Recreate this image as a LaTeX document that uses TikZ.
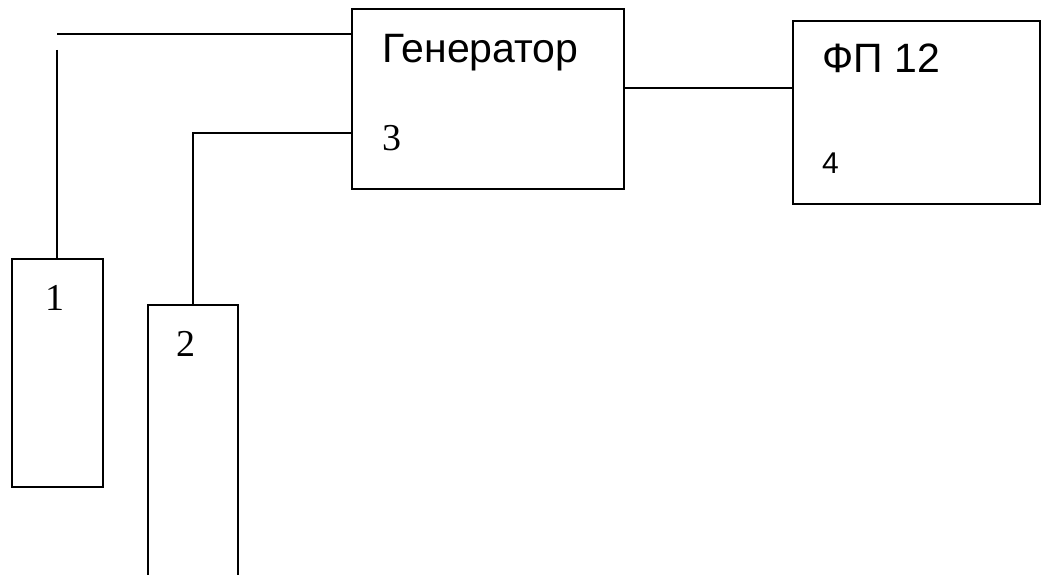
\documentclass[tikz,border=0pt]{standalone}
\usepackage{fontspec}
\setmainfont{Liberation Serif}
\newfontfamily\arialf{Liberation Sans}
\begin{document}
\begin{tikzpicture}[x=1pt,y=-1pt,
  box/.style={draw=black,line width=2pt,inner sep=0pt,fill=none},
  wire/.style={draw=black,line width=2pt},
  sanslbl/.style={anchor=base west,inner sep=0pt,font=\arialf\fontsize{41}{41}\selectfont},
  sanssmall/.style={anchor=base west,inner sep=0pt,font=\arialf\fontsize{30}{30}\selectfont},
  seriflbl/.style={anchor=base west,inner sep=0pt,font=\fontsize{38}{38}\selectfont}]
\useasboundingbox (0,0) rectangle (1041,575);
\clip (0,0) rectangle (1041,575);
% boxes
\node[box,minimum width=272pt,minimum height=180pt] (gen) at (488,99) {};
\node[box,minimum width=247pt,minimum height=183pt] (fp) at (916.5,112.5) {};
\node[box,minimum width=91pt,minimum height=228pt] (b1) at (57,373) {};
\node[box,minimum width=90pt,minimum height=320pt] (b2) at (193,465) {};
% labels
\node[sanslbl] (tgen) at (382,63) {Генератор};
\node[seriflbl] (t3) at (382,150) {3};
\node[sanslbl] (tfp) at (822,73) {ФП 12};
\node[sanssmall] (t4) at (822,173) {4};
\node[seriflbl] (t1) at (45,310) {1};
\node[seriflbl] (t2) at (176,356) {2};
% connectors
\coordinate (c1top) at (57,34);
\coordinate (c1gap) at (57,50);
\coordinate (c2) at (193,133);
\draw[wire] (gen.west |- c1top) -- (c1top);
\draw[wire] (c1gap) -- (b1.north);
\draw[wire] (b2.north) -- (c2) -- (gen.west |- c2);
\draw[wire] (gen.east |- 0,88) -- (fp.west |- 0,88);
\end{tikzpicture}
\end{document}
